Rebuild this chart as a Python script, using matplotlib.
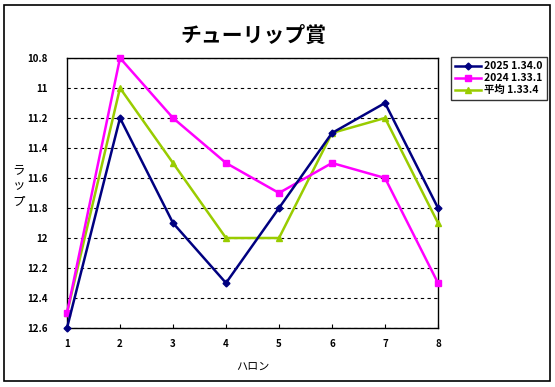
import matplotlib
matplotlib.use("Agg")
import matplotlib.pyplot as plt
from matplotlib.patches import Rectangle

plt.rcParams['font.family'] = ['Noto Sans CJK JP', 'DejaVu Sans']

# data
furlongs = [1, 2, 3, 4, 5, 6, 7, 8]
lap_2025 = [12.6, 11.2, 11.9, 12.3, 11.8, 11.3, 11.1, 11.8]
lap_2024 = [12.5, 10.8, 11.2, 11.5, 11.7, 11.5, 11.6, 12.3]
lap_avg = [12.5, 11.0, 11.5, 12.0, 12.0, 11.3, 11.2, 11.9]
series_labels = ["2025 1.34.0", "2024 1.33.1", "平均 1.33.4"]
y_ticks = [10.8, 11, 11.2, 11.4, 11.6, 11.8, 12, 12.2, 12.4, 12.6]
y_tick_labels = ["10.8", "11", "11.2", "11.4", "11.6", "11.8", "12", "12.2", "12.4", "12.6"]

W, H = 555, 387
fig = plt.figure(figsize=(W / 100, H / 100), dpi=100)

# outer chart border
fig.patches.append(Rectangle((4 / W, 6 / H), 546 / W, 376 / H, transform=fig.transFigure,
                             fill=False, edgecolor='black', linewidth=1.2))

left, right, top, bottom = 67, 438, 58, 328
ax = fig.add_axes([left / W, 1 - bottom / H, (right - left) / W, (bottom - top) / H])

ax.plot(furlongs, lap_2025, color='#000080', marker='D', markersize=3.5, linewidth=1.8,
        label=series_labels[0], clip_on=False, zorder=5)
ax.plot(furlongs, lap_2024, color='#FF00FF', marker='s', markersize=4.5, linewidth=1.8,
        label=series_labels[1], clip_on=False, zorder=4)
ax.plot(furlongs, lap_avg, color='#99CC00', marker='^', markersize=4.5, linewidth=1.8,
        label=series_labels[2], clip_on=False, zorder=3)

ax.set_xlim(1, 8)
ax.set_ylim(12.6, 10.8)
ax.set_xticks(furlongs)
ax.set_yticks(y_ticks)
ax.set_yticklabels(y_tick_labels)
ax.tick_params(axis='x', direction='in', length=3, pad=8, labelsize=7)
ax.tick_params(axis='y', length=0, pad=14, labelsize=7)
for lbl in ax.get_xticklabels() + ax.get_yticklabels():
    lbl.set_fontweight('bold')

ax.grid(axis='y', color='black', linestyle=(0, (3, 3)), linewidth=0.8)
for sp in ax.spines.values():
    sp.set_linewidth(1.0)

fig.text(253 / W, 1 - 35 / H, "チューリップ賞", ha='center', va='center',
         fontsize=15, fontweight='bold', fontstyle='italic')
fig.text(253 / W, 1 - 367 / H, "ハロン", ha='center', va='center', fontsize=8)
fig.text(19 / W, 1 - 186 / H, "ラ\nッ\nプ", ha='center', va='center', fontsize=9,
         linespacing=1.35)

leg = fig.legend(loc='upper left', bbox_to_anchor=(451 / W, 1 - 57 / H), fontsize=7.5,
                 frameon=True, fancybox=False, edgecolor='black', borderpad=0.4,
                 handlelength=2.5, handletextpad=0.3, labelspacing=0.2, borderaxespad=0)
leg.get_frame().set_linewidth(1.0)
for t in leg.get_texts():
    t.set_fontweight('bold')

fig.savefig("out.png", dpi=100)
